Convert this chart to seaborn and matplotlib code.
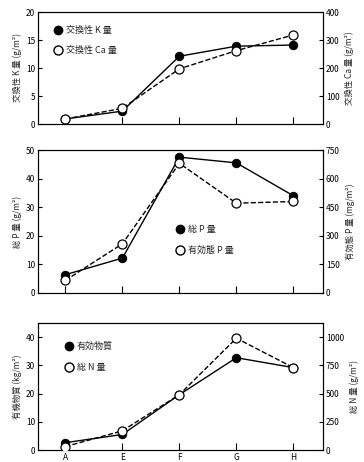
import matplotlib
matplotlib.use("Agg")
import matplotlib.pyplot as plt
from matplotlib.lines import Line2D
import seaborn as sns
import pandas as pd
import numpy as np

categories = ["A", "E", "F", "G", "H"]

# Panel 1
k_exch = [0.9, 2.3, 12.1, 13.9, 14.1]          # g/m2, left
ca_exch = [18, 56, 197, 262, 318]              # g/m2, right
# Panel 2
p_total = [6.4, 12.2, 47.5, 45.5, 34.0]        # g/m2, left
p_avail = [66, 258, 680, 471, 480]             # mg/m2, right
# Panel 3
om = [2.6, 5.5, 19.6, 32.7, 29.2]              # kg/m2, left
n_total = [30, 170, 490, 990, 730]             # g/m2, right

sns.set_theme(style="white")
plt.rcParams['font.family'] = ['Noto Sans CJK JP', 'DejaVu Sans']
plt.rcParams['axes.unicode_minus'] = False

fig = plt.figure(figsize=(3.64, 4.62), dpi=100)
W, H = 364, 462
def rect(l, t, r, b):
    return [l / W, 1 - b / H, (r - l) / W, (b - t) / H]

panels = [
    dict(rect=rect(38, 12, 323, 124), left=k_exch, right=ca_exch,
         lmax=20, lstep=5, rmax=400, rstep=100,
         llabel="交換性 K 量 (g/m²)", rlabel="交換性 Ca 量 (g/m²)",
         leg=["交換性 K 量", "交換性 Ca 量"], legpos=(0.04, 0.91), xlabels=False),
    dict(rect=rect(38, 150, 323, 293), left=p_total, right=p_avail,
         lmax=50, lstep=10, rmax=750, rstep=150,
         llabel="総 P 量 (g/m²)", rlabel="有効態 P 量 (mg/m²)",
         leg=["総 P 量", "有効態 P 量"], legpos=(0.47, 0.5), xlabels=False),
    dict(rect=rect(38, 323, 323, 450), left=om, right=n_total,
         lmax=45, lstep=10, rmax=1125, rstep=250,
         llabel="有機物質 (kg/m²)", rlabel="総 N 量 (g/m²)",
         leg=["有効物質", "総 N 量"], legpos=(0.08, 0.88), xlabels=True),
]

x = np.arange(len(categories))
fs = 6
for p in panels:
    ax = fig.add_axes(p["rect"])
    ax2 = ax.twinx()
    df = pd.DataFrame({"x": x, "left": p["left"], "right": p["right"]})
    sns.lineplot(data=df, x="x", y="left", ax=ax, color="black", lw=1.0,
                 marker="o", markersize=6, markerfacecolor="black",
                 markeredgecolor="black", zorder=3)
    sns.lineplot(data=df, x="x", y="right", ax=ax2, color="black", lw=1.0,
                 linestyle="--", marker="o", markersize=6.5,
                 markerfacecolor="white", markeredgecolor="black",
                 markeredgewidth=0.9, zorder=3)
    ax.set_xlim(-0.48, 4.52)
    ax.set_ylim(0, p["lmax"])
    ax2.set_ylim(0, p["rmax"])
    ax.set_yticks(np.arange(0, p["lmax"] + 0.01, p["lstep"]))
    ax2.set_yticks(np.arange(0, p["rmax"] + 0.01, p["rstep"]))
    ax.set_xticks(x)
    if p["xlabels"]:
        ax.set_xticklabels(categories)
    else:
        ax.set_xticklabels([])
    ax.set_xlabel("")
    ax.set_ylabel(p["llabel"], fontsize=fs, labelpad=3)
    ax2.set_ylabel(p["rlabel"], fontsize=fs, rotation=90, labelpad=4)
    ax.tick_params(axis="x", direction="in", length=5, width=0.8,
                   labelsize=fs, pad=2, bottom=True, colors="black")
    ax.tick_params(axis="y", direction="in", length=3, width=0.8,
                   labelsize=fs, pad=2, left=True, colors="black")
    ax2.tick_params(axis="y", direction="in", length=3, width=0.8,
                    labelsize=fs, pad=2, right=True, colors="black")
    for a in (ax, ax2):
        for s in a.spines.values():
            s.set_color("black")
            s.set_linewidth(0.8)
    handles = [
        Line2D([], [], color="black", marker="o", linestyle="none",
               markersize=6, markerfacecolor="black"),
        Line2D([], [], color="black", marker="o", linestyle="none",
               markersize=6.5, markerfacecolor="white"),
    ]
    ax2.legend(handles, p["leg"], loc="upper left", bbox_to_anchor=p["legpos"],
               frameon=False, fontsize=6.5, labelspacing=1.3,
               handletextpad=0.4, handlelength=1.0, borderaxespad=0)

fig.savefig("out.png", dpi=100)
